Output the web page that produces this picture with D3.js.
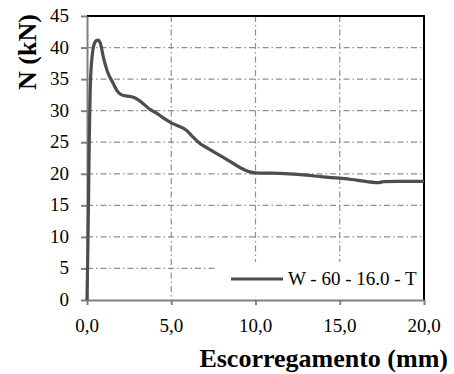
<html>
<head>
<style>
body { margin: 0; background: #ffffff; }
svg { background: #ffffff; font-family: "Liberation Serif", "Times New Roman", serif; }
.tick-label { font-size: 19px; fill: #000; }
.axis-title { font-size: 26px; font-weight: bold; fill: #000; }
.legend-text { font-size: 19px; fill: #000; }
</style>
<script src="https://d3js.org/d3.v7.min.js"></script>
</head>
<body>
<svg width="454" height="374"></svg>
<script>
// slip (mm) and load (kN)
var slip = [0, 0.05, 0.1, 0.14, 0.18, 0.22, 0.3, 0.4, 0.55, 0.67, 0.8, 0.97, 1.2, 1.56, 1.8, 2.06, 2.4, 2.65,
            3.0, 3.34, 3.74, 4.13, 4.5, 4.92, 5.3, 5.9, 6.3, 6.7, 7.2, 7.7, 8.4, 9.07, 9.67, 10.26, 11, 12,
            13, 14, 15, 16, 17.3, 17.6, 18.5, 20];
var load = [0, 8, 18, 26, 32, 35.5, 38.5, 40.3, 41.1, 41.2, 40.6, 38.5, 36.3, 34.3, 33.1, 32.5, 32.3, 32.2,
            31.8, 31.1, 30.2, 29.6, 28.9, 28.2, 27.7, 26.9, 25.8, 24.8, 24.0, 23.2, 22.1, 21.0, 20.3, 20.1, 20.1, 20.0,
            19.8, 19.5, 19.3, 19.0, 18.6, 18.75, 18.8, 18.8];
var xTicks = [0, 5, 10, 15, 20];
var yTicks = [0, 5, 10, 15, 20, 25, 30, 35, 40, 45];
var seriesName = "W - 60 - 16.0 - T";

var svg = d3.select("svg");
var pLeft = 87, pRight = 424, pTop = 16, pBottom = 300;

var x = d3.scaleLinear().domain([0, 20]).range([pLeft, pRight]);
var y = d3.scaleLinear().domain([0, 45]).range([pBottom, pTop]);

// grid
svg.append("g").selectAll("line")
   .data(yTicks.filter(function(d) { return d > 0 && d < 45; }))
   .enter().append("line")
   .attr("x1", pLeft).attr("x2", pRight)
   .attr("y1", function(d) { return y(d); }).attr("y2", function(d) { return y(d); })
   .attr("stroke", "#8f8f8f").attr("stroke-width", 1.2)
   .attr("stroke-dasharray", "6,3,1.5,3");

svg.append("g").selectAll("line")
   .data(xTicks.filter(function(d) { return d > 0 && d < 20; }))
   .enter().append("line")
   .attr("y1", pTop).attr("y2", pBottom)
   .attr("x1", function(d) { return x(d); }).attr("x2", function(d) { return x(d); })
   .attr("stroke", "#8f8f8f").attr("stroke-width", 1.2)
   .attr("stroke-dasharray", "6,3,1.5,3");

// legend background hides the grid under it
svg.append("rect")
   .attr("x", 215).attr("y", 262).attr("width", pRight - 1 - 215).attr("height", pBottom - 1 - 262)
   .attr("fill", "#ffffff");

// frame: top and right black
svg.append("line").attr("x1", pLeft).attr("x2", pRight + 1).attr("y1", pTop).attr("y2", pTop)
   .attr("stroke", "#000").attr("stroke-width", 2);
svg.append("line").attr("x1", pRight).attr("x2", pRight).attr("y1", pTop).attr("y2", pBottom)
   .attr("stroke", "#000").attr("stroke-width", 2);

// gray axes left and bottom
svg.append("g")
   .attr("transform", "translate(" + pLeft + ",0)")
   .call(d3.axisLeft(y).tickValues(yTicks).tickSize(6).tickSizeOuter(0).tickFormat(""));
svg.append("g")
   .attr("transform", "translate(0," + pBottom + ")")
   .call(d3.axisBottom(x).tickValues(xTicks).tickSize(5).tickSizeOuter(0).tickFormat(""));
svg.selectAll(".domain, .tick line").attr("stroke", "#808080").attr("stroke-width", 2);

// tick labels
svg.append("g").selectAll("text").data(yTicks).enter().append("text")
   .attr("class", "tick-label").attr("text-anchor", "end")
   .attr("x", 69).attr("y", function(d) { return y(d) + 6; })
   .text(function(d) { return d; });
svg.append("g").selectAll("text").data(xTicks).enter().append("text")
   .attr("class", "tick-label").attr("text-anchor", "middle")
   .attr("x", function(d) { return x(d); }).attr("y", 332)
   .text(function(d) { return d3.format(".1f")(d).replace(".", ","); });

// curve
var pts = slip.map(function(s, i) { return [s, load[i]]; });
var line = d3.line()
   .x(function(d) { return x(d[0]); })
   .y(function(d) { return y(d[1]); })
   .curve(d3.curveMonotoneX);
svg.append("path").datum(pts)
   .attr("d", line)
   .attr("fill", "none").attr("stroke", "#4d4d4d").attr("stroke-width", 3.2)
   .attr("stroke-linejoin", "round");

// legend
svg.append("line").attr("x1", 231).attr("x2", 283).attr("y1", 279).attr("y2", 279)
   .attr("stroke", "#4d4d4d").attr("stroke-width", 3.2);
svg.append("text").attr("class", "legend-text").attr("x", 288).attr("y", 285).text(seriesName);

// axis titles
svg.append("text").attr("class", "axis-title").attr("text-anchor", "end")
   .attr("x", 448).attr("y", 367).text("Escorregamento (mm)");
svg.append("text").attr("class", "axis-title").attr("text-anchor", "middle")
   .attr("transform", "translate(36,52) rotate(-90)").text("N (kN)");
</script>
</body>
</html>
